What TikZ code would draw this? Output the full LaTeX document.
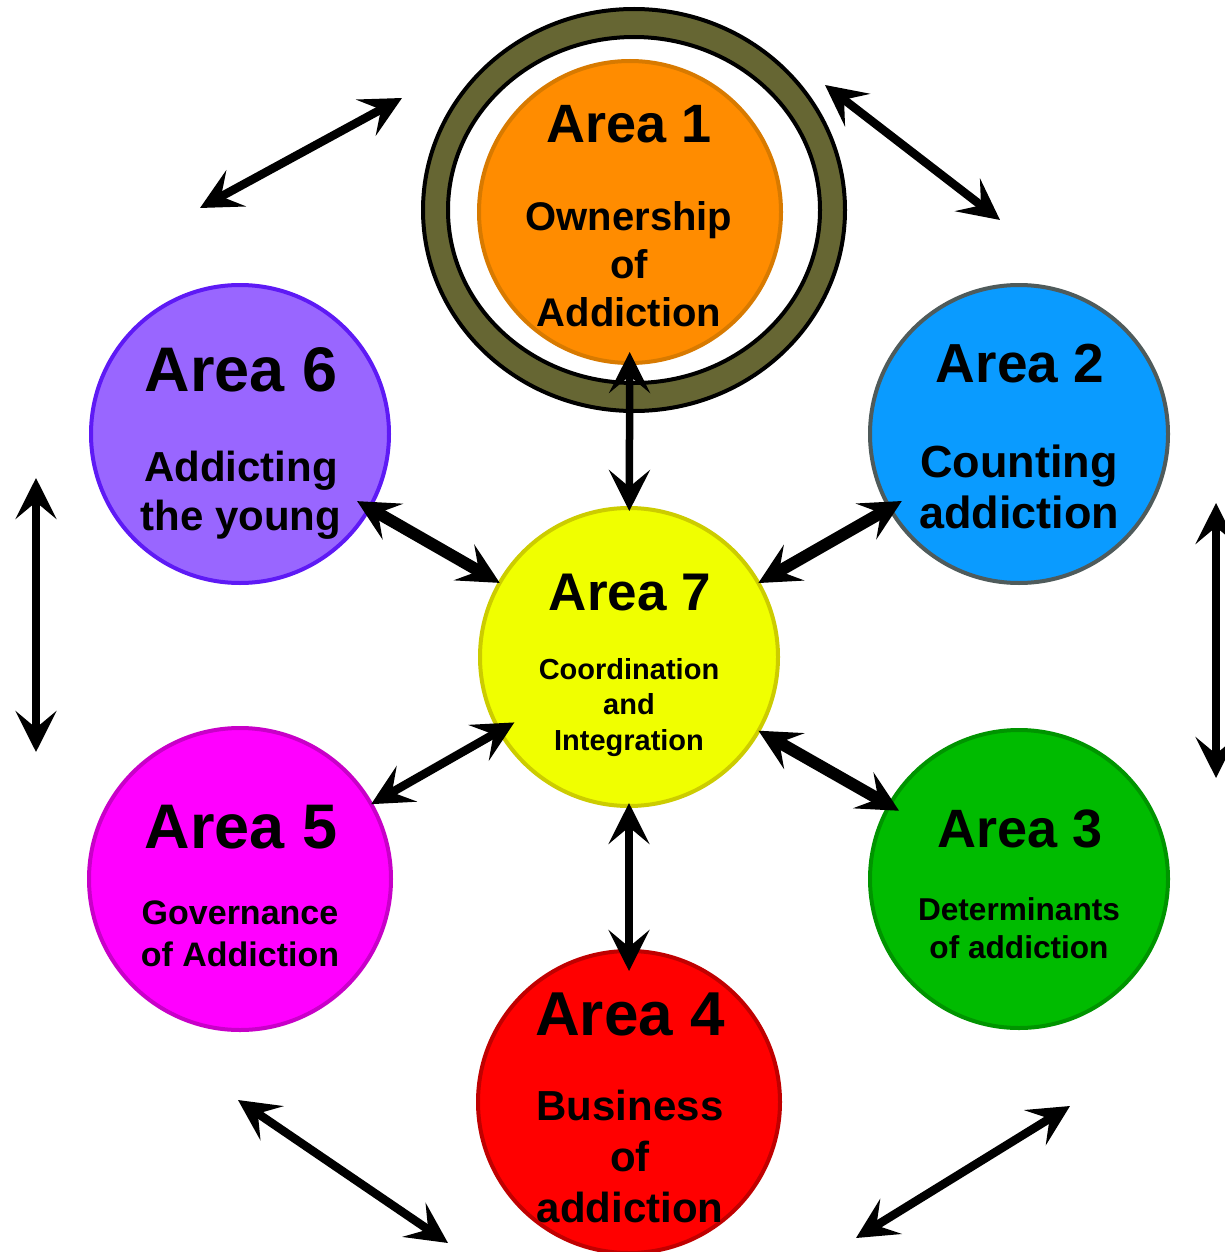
\documentclass[tikz,border=0pt]{standalone}
\usepackage{fontspec}
\setmainfont{Liberation Sans}
\usetikzlibrary{arrows.meta}
\definecolor{c1}{HTML}{FF8C00}\definecolor{b1}{HTML}{D87A00}
\definecolor{c2}{HTML}{0A9BFF}\definecolor{b2}{HTML}{4F5B5B}
\definecolor{c3}{HTML}{00BB00}\definecolor{b3}{HTML}{009400}
\definecolor{c4}{HTML}{FF0000}\definecolor{b4}{HTML}{C00000}
\definecolor{c5}{HTML}{FF00FF}\definecolor{b5}{HTML}{C800C8}
\definecolor{c6}{HTML}{9966FF}\definecolor{b6}{HTML}{5E1AF5}
\definecolor{c7}{HTML}{F0FF00}\definecolor{b7}{HTML}{CCCC00}
\definecolor{olive}{HTML}{666633}
\tikzset{
  area/.style={circle, draw, line width=4pt, inner sep=0pt, outer sep=0pt},
  ttl/.style={anchor=base, inner sep=0pt, font=\bfseries\fontsize{#1}{#1}\selectfont},
  biarrow/.style={{Stealth[length=41pt,width=41pt,inset=17pt]}-{Stealth[length=41pt,width=41pt,inset=17pt]}, line width=#1, draw=black},
  biarrow/.default=8.5pt,
}
\begin{document}
\begin{tikzpicture}[x=1pt,y=-1pt]
\useasboundingbox (0,0) rectangle (1225,1252);
% ring around area 1
\draw[line width=4pt, fill=olive] (634,210) ellipse [x radius=211, y radius=201];
\draw[line width=4pt, fill=white] (634,210) ellipse [x radius=186, y radius=173];
% areas
\node[area, fill=c1, draw=b1, minimum size=302pt] (a1) at (630,212) {};
\node[area, fill=c2, draw=b2, minimum size=298pt] (a2) at (1019,434) {};
\node[area, fill=c3, draw=b3, minimum size=298pt] (a3) at (1019,879) {};
\node[area, fill=c4, draw=b4, minimum size=302pt] (a4) at (629,1102) {};
\node[area, fill=c5, draw=b5, minimum size=302pt] (a5) at (240,879) {};
\node[area, fill=c6, draw=b6, minimum size=298pt] (a6) at (240,434) {};
\node[area, fill=c7, draw=b7, minimum size=298pt] (a7) at (629,657) {};
% texts
\node[ttl=54] (t1) at (629,143) {Area 1};
\node[ttl=40] (t1a) at (629,230) {Ownership};
\node[ttl=40] (t1b) at (629,278) {of};
\node[ttl=40] (t1c) at (629,326) {Addiction};
\node[ttl=55] (t2) at (1020,382) {Area 2};
\node[ttl=45] (t2a) at (1019,477) {Counting};
\node[ttl=45] (t2b) at (1019,528) {addiction};
\node[ttl=54] (t3) at (1020,847) {Area 3};
\node[ttl=31.6] (t3a) at (1019,920) {Determinants};
\node[ttl=31.6] (t3b) at (1019,958) {of addiction};
\node[ttl=62] (t4) at (630,1035) {Area 4};
\node[ttl=42] (t4a) at (630,1120) {Business};
\node[ttl=42] (t4b) at (630,1171) {of};
\node[ttl=42] (t4c) at (630,1222) {addiction};
\node[ttl=63] (t5) at (241,848) {Area 5};
\node[ttl=34] (t5a) at (240,924) {Governance};
\node[ttl=34] (t5b) at (240,966) {of Addiction};
\node[ttl=63] (t6) at (241,391) {Area 6};
\node[ttl=42] (t6a) at (241,481) {Addicting};
\node[ttl=42] (t6b) at (241,530) {the young};
\node[ttl=53] (t7) at (630,610) {Area 7};
\node[ttl=29] (t7a) at (629,679) {Coordination};
\node[ttl=29] (t7b) at (629,714) {and};
\node[ttl=29] (t7c) at (629,750) {Integration};
% inner connectors
\draw[biarrow=7.5pt, shorten <=-3pt, shorten >=-11pt] (a7) -- (a1);
\draw[biarrow=12pt, shorten <=-14pt] (a6) -- (a7);
\draw[biarrow=12pt, shorten <=-14pt] (a2) -- (a7);
\draw[biarrow=8.5pt, shorten >=-17pt] (a5) -- (a7);
\draw[biarrow=12pt, shorten <=-11pt] (a3) -- (a7);
\draw[biarrow=7.5pt, shorten <=-3pt, shorten >=-20pt] (a7) -- (a4);
% outer connectors
\coordinate (p1) at (200,208); \coordinate (p2) at (402,98);
\coordinate (p3) at (825,85);  \coordinate (p4) at (1000,220);
\coordinate (p5) at (36,478);  \coordinate (p6) at (36,752);
\coordinate (p7) at (1216,503); \coordinate (p8) at (1216,778);
\coordinate (p9) at (238,1100); \coordinate (p10) at (448,1243);
\coordinate (p11) at (856,1238); \coordinate (p12) at (1070,1106);
\draw[biarrow] (p1) -- (p2);
\draw[biarrow] (p3) -- (p4);
\draw[biarrow] (p5) -- (p6);
\draw[biarrow] (p7) -- (p8);
\draw[biarrow] (p9) -- (p10);
\draw[biarrow] (p11) -- (p12);
\end{tikzpicture}
\end{document}
